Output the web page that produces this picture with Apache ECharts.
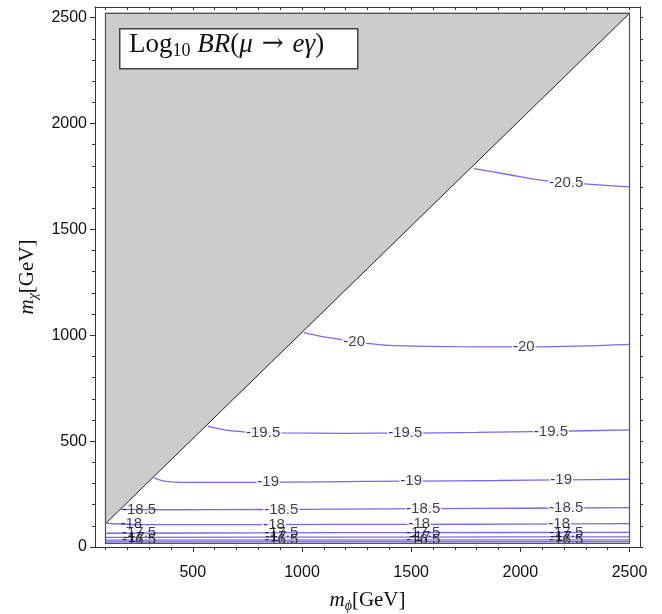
<!DOCTYPE html>
<html>
<head>
<meta charset="utf-8">
<script src="https://cdn.jsdelivr.net/npm/echarts@6/dist/echarts.min.js"></script>
<style>html,body{margin:0;padding:0;background:#fff;}#chart{width:662px;height:614px;}</style>
</head>
<body>
<div id="chart"></div>
<script>
// ---- data (m_phi, m_chi) in GeV ----
const xMajor = [500, 1000, 1500, 2000, 2500];
const yMajor = [0, 500, 1000, 1500, 2000, 2500];
const xMinor = [100,200,300,400,600,700,800,900,1100,1200,1300,1400,1600,1700,1800,1900,2100,2200,2300,2400];
const yMinor = [100,200,300,400,600,700,800,900,1100,1200,1300,1400,1600,1700,1800,1900,2100,2200,2300,2400];

const excluded = [[100,110],[100,2520],[2500,2520]];
const region = [[100,17],[2500,17],[2500,2520],[100,2520]];

const levelNames = ['-20.5','-20','-19.5','-19','-18.5','-18','-17.5','-17','-16.5','-16'];
const c205 = [[1787,1787],[1943,1759],[2094,1732],[2277,1716],[2500,1701]];
const c20  = [[1008,1012],[1080,996],[1146,985],[1270,965],[1400,952],[1700,946],[2000,945],[2300,950],[2500,957]];
const c195 = [[568,571],[600,562],[650,552],[733,544],[900,539],[1200,537],[1473,538],[1800,541],[2140,546],[2500,553]];
const c19  = [[321,326],[350,316],[385,309],[505,305],[780,305],[1100,308],[1500,311],[1900,314],[2200,317],[2500,320]];
const c185 = [[170,178],[400,176],[800,177],[1200,179],[1600,181],[2000,183],[2500,186]];
const c18  = [[100,113],[130,110],[250,106],[800,106],[1500,107],[2000,108],[2500,110]];
const c175 = [[100,65],[800,67],[1500,68],[2500,69]];
const c17  = [[100,45],[1500,47],[2500,48]];
const c165 = [[100,32],[2500,34]];
const c16  = [[100,24],[2500,25]];
const contours = [c205, c20, c195, c19, c185, c18, c175, c17, c165, c16];

// label x positions along each contour
const lbl205 = [2210];
const lbl20  = [1239, 2016];
const lbl195 = [822, 1473, 2140];
const lbl19  = [845, 1500, 2187];
const lbl185 = [254, 905, 1555, 2210];
const lbl18  = [218, 872, 1537, 2178];
const lbl175 = [254, 905, 1555, 2210];
const lbl17  = [230, 880, 1540, 2185];
const lbl165 = [254, 905, 1555, 2210];
const lbl16  = [];
const labelXs = [lbl205, lbl20, lbl195, lbl19, lbl185, lbl18, lbl175, lbl17, lbl165, lbl16];

// ---- build ----
function yAt(curve, x) {
  if (x <= curve[0][0]) return curve[0][1];
  for (let i = 1; i < curve.length; i++) {
    if (x <= curve[i][0]) {
      const [x0, y0] = curve[i-1], [x1, y1] = curve[i];
      return y0 + (y1 - y0) * (x - x0) / (x1 - x0);
    }
  }
  return curve[curve.length-1][1];
}

const lineColor = '#7769f2';
const series = [];

series.push({
  type: 'custom', z: 1, silent: true, data: [0],
  renderItem: (params, api) => ({
    type: 'polygon',
    shape: { points: excluded.map(p => api.coord(p)) },
    style: { fill: '#cccccc', stroke: '#222', lineWidth: 1 }
  })
});

contours.forEach((c, i) => {
  series.push({
    type: 'line', data: c, smooth: 0.3, symbol: 'none', z: 2, silent: true,
    lineStyle: { color: lineColor, width: 1.3 }
  });
});

const labelData = [];
labelXs.forEach((xs, i) => {
  xs.forEach((x, j) => {
    const tight = i >= 6;
    const nearEdge = (i === 4 || i === 5) && j === 0;
    labelData.push({
      value: [x, yAt(contours[i], x)],
      label: {
        formatter: levelNames[i],
        backgroundColor: (tight || nearEdge) ? 'transparent' : '#fff',
        padding: [0, 1]
      }
    });
  });
});
series.push({
  type: 'scatter', data: labelData, symbolSize: 0, z: 5, silent: true,
  label: { show: true, position: 'inside', color: '#111', fontSize: 15, fontFamily: 'Liberation Sans' }
});

series.push({
  type: 'custom', z: 6, silent: true, data: [0],
  renderItem: (params, api) => ({
    type: 'polygon',
    shape: { points: region.map(p => api.coord(p)) },
    style: { fill: 'none', stroke: '#555', lineWidth: 1.2 }
  })
});

const frameColor = '#333';
const serif = 'Liberation Serif';
const plain = v => String(v);
const nameRich = {
  i: { fontFamily: serif, fontStyle: 'italic', fontSize: 21, color: '#111', lineHeight: 26 },
  s: { fontFamily: serif, fontStyle: 'italic', fontSize: 14, color: '#111', verticalAlign: 'bottom', lineHeight: 16 },
  r: { fontFamily: serif, fontSize: 21, color: '#111', lineHeight: 26 }
};
const chart = echarts.init(document.getElementById('chart'));
chart.setOption({
  animation: false,
  backgroundColor: '#fff',
  grid: { left: 95, right: 22, top: 7, bottom: 67, containLabel: false, outerBoundsMode: 'none' },
  xAxis: [
    { type: 'value', position: 'bottom', min: 52, max: 2548,
      axisLine: { show: true, onZero: false, lineStyle: { color: frameColor, width: 1 } },
      axisTick: { show: true, customValues: xMajor, length: 5, lineStyle: { color: frameColor } },
      axisLabel: { customValues: xMajor, formatter: plain, fontSize: 16, color: '#111', fontFamily: 'Liberation Sans', margin: 18 },
      splitLine: { show: false },
      name: '{i|m}{s|ϕ}{r|[GeV]}', nameLocation: 'middle', nameGap: 40,
      nameTextStyle: { rich: nameRich }
    },
    { type: 'value', position: 'bottom', min: 52, max: 2548,
      axisLine: { show: false }, axisLabel: { show: false }, splitLine: { show: false },
      axisTick: { show: true, customValues: xMinor, length: 3, lineStyle: { color: frameColor } } },
    { type: 'value', position: 'top', min: 52, max: 2548,
      axisLine: { show: true, onZero: false, lineStyle: { color: frameColor, width: 1 } },
      axisLabel: { show: false }, splitLine: { show: false },
      axisTick: { show: true, inside: true, customValues: xMajor.concat(xMinor), length: 3, lineStyle: { color: frameColor } } }
  ],
  yAxis: [
    { type: 'value', position: 'left', min: 0, max: 2550,
      axisLine: { show: true, onZero: false, lineStyle: { color: frameColor, width: 1 } },
      axisTick: { show: true, customValues: yMajor, length: 5, lineStyle: { color: frameColor } },
      axisLabel: { customValues: yMajor, formatter: plain, fontSize: 16, color: '#111', fontFamily: 'Liberation Sans', margin: 8 },
      splitLine: { show: false },
      name: '{i|m}{s|χ}{r|[GeV]}', nameLocation: 'middle', nameGap: 55, nameRotate: 90,
      nameTextStyle: { rich: nameRich }
    },
    { type: 'value', position: 'left', min: 0, max: 2550,
      axisLine: { show: false }, axisLabel: { show: false }, splitLine: { show: false },
      axisTick: { show: true, customValues: yMinor, length: 3, lineStyle: { color: frameColor } } },
    { type: 'value', position: 'right', min: 0, max: 2550,
      axisLine: { show: true, onZero: false, lineStyle: { color: frameColor, width: 1 } },
      axisLabel: { show: false }, splitLine: { show: false },
      axisTick: { show: true, customValues: yMajor.concat(yMinor), length: 3, lineStyle: { color: frameColor } } }
  ],
  graphic: [
    { type: 'rect', left: 119, top: 28, z: 10,
      shape: { width: 238, height: 40 },
      style: { fill: '#fff', stroke: '#444', lineWidth: 1.5 } },
    { type: 'text', left: 129, top: 31, z: 11,
      style: {
        text: '{r|Log}{s|10}{r| }{i|BR}{r|(}{i|μ}{a|→}{i|eγ}{r|)}',
        rich: {
          r: { fontFamily: serif, fontSize: 27, fill: '#111', lineHeight: 32 },
          a: { fontFamily: 'DejaVu Serif', fontSize: 26, fill: '#111', lineHeight: 32, padding: [0, 9, 0, 9] },
          i: { fontFamily: serif, fontStyle: 'italic', fontSize: 27, fill: '#111', lineHeight: 32 },
          s: { fontFamily: serif, fontSize: 18, fill: '#111', verticalAlign: 'bottom', lineHeight: 20 }
        }
      } }
  ],
  series: series
});
</script>
</body>
</html>
